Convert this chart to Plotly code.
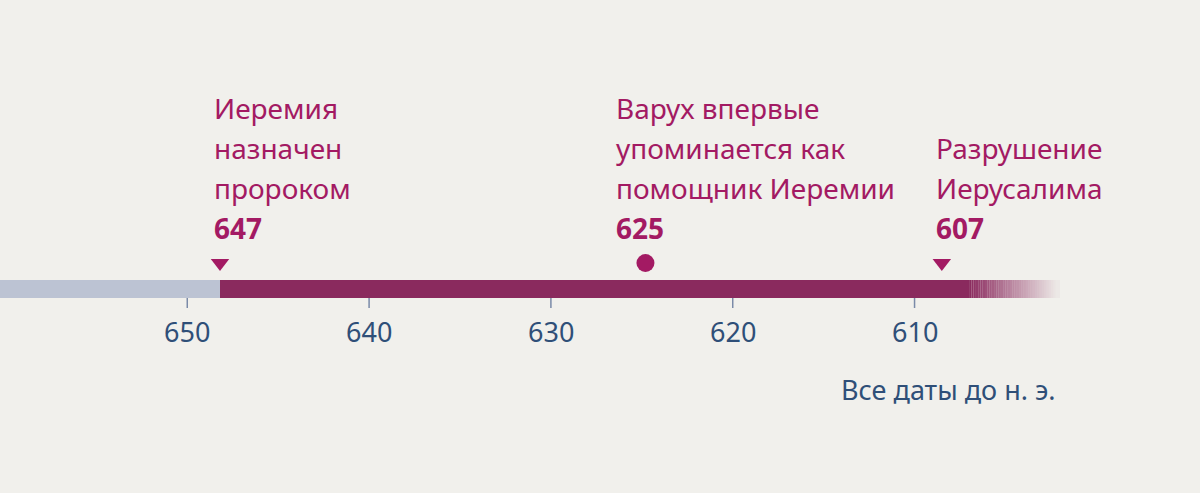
import plotly.graph_objects as go

ticks = [650, 640, 630, 620, 610]
events = [
    {"year": "647", "pos": 648.2, "lines": ["Иеремия", "назначен", "пророком"], "symbol": "triangle-down"},
    {"year": "625", "pos": 624.8, "lines": ["Варух впервые", "упоминается как", "помощник Иеремии"], "symbol": "circle"},
    {"year": "607", "pos": 608.5, "lines": ["Разрушение", "Иерусалима"], "symbol": "triangle-down"},
]
label_shift_px = [-8, -31, -8]
note = "Все даты до н. э."

MAG = "#a31a63"
BAR = "#8a2a5e"
BLUE = "#2f4f78"
FONT = "Noto Sans"
X0, X1 = 660.3, 594.3
PXY = 18.2  # px per year

fig = go.Figure()
shapes = []
ann = []
shapes.append(dict(type="rect", x0=X0, x1=events[0]["pos"], y0=280, y1=298, fillcolor="#bcc3d3", line_width=0, layer="below"))
fade_start = 607.0
shapes.append(dict(type="rect", x0=events[0]["pos"], x1=fade_start, y0=280, y1=298, fillcolor=BAR, line_width=0, layer="below"))
n = 40
end = 602.0
for i in range(n):
    a = fade_start - (fade_start - end) * i / n
    b = fade_start - (fade_start - end) * (i + 1) / n
    shapes.append(dict(type="rect", x0=a, x1=b, y0=280, y1=298, fillcolor=BAR,
                       opacity=max(0.04, 1 - (i + 0.5) / n), line_width=0, layer="below"))
for t in ticks:
    shapes.append(dict(type="line", x0=t, x1=t, y0=298, y1=308, line=dict(color="#7a8aa8", width=1.5)))
    ann.append(dict(x=t, y=331, text=str(t), showarrow=False, xanchor="center", yanchor="middle",
                    font=dict(family=FONT, size=27, color=BLUE)))

for ev, sh in zip(events, label_shift_px):
    nl = len(ev["lines"])
    xl = ev["pos"] - sh / PXY
    for k, line in enumerate(ev["lines"]):
        y = 228 - 40 * (nl - k)
        ann.append(dict(x=xl, y=y, text=line, showarrow=False, xanchor="left", yanchor="middle",
                        font=dict(family=FONT, size=28, color=MAG)))
    ann.append(dict(x=xl, y=228, text="<b>" + ev["year"] + "</b>", showarrow=False, xanchor="left",
                    yanchor="middle", font=dict(family=FONT, size=28, color=MAG)))
    fig.add_trace(go.Scatter(x=[ev["pos"]], y=[263], mode="markers",
                             marker=dict(symbol=ev["symbol"], size=18 if ev["symbol"] == "circle" else 16,
                                         color=MAG), hoverinfo="skip"))

ann.append(dict(x=events[2]["pos"] - 6.4, y=389, text=note, showarrow=False, xanchor="right",
                yanchor="middle", font=dict(family=FONT, size=27, color=BLUE)))

fig.update_layout(
    width=1200, height=493, margin=dict(l=0, r=0, t=0, b=0),
    paper_bgcolor="#f1f0ec", plot_bgcolor="#f1f0ec", showlegend=False,
    xaxis=dict(range=[X0, X1], visible=False, fixedrange=True),
    yaxis=dict(range=[493, 0], visible=False, fixedrange=True),
    shapes=shapes, annotations=ann,
)
fig.write_html("out.html", config={"displayModeBar": False})
with open("out.html", encoding="utf-8") as f:
    html = f.read()
html = html.replace("<body>", '<body style="margin:0;overflow:hidden;background:#f1f0ec">', 1)
with open("out.html", "w", encoding="utf-8") as f:
    f.write(html)
